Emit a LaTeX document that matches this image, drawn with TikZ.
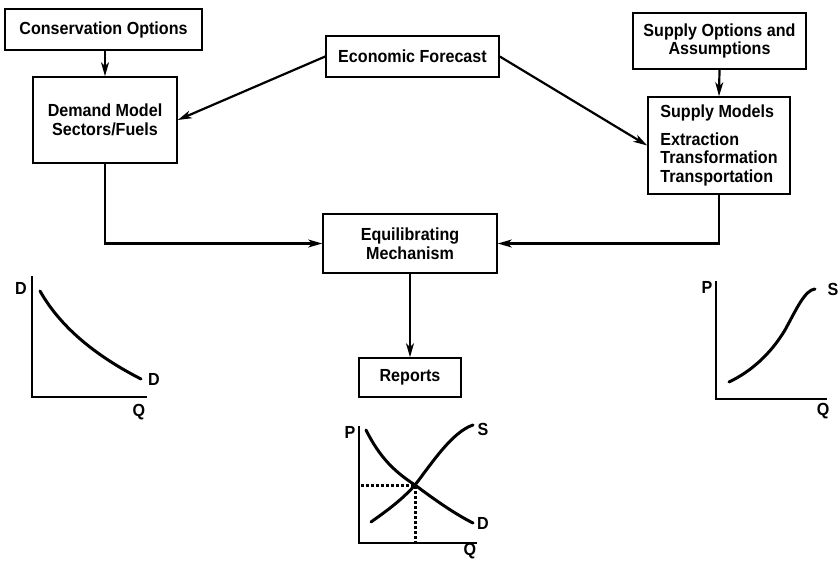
\documentclass[tikz,border=0pt]{standalone}
\usepackage{fontspec}
\setmainfont[FakeStretch=0.92]{Liberation Sans}
\usetikzlibrary{arrows.meta,positioning}
\tikzset{
  box/.style={draw, line width=1.6pt, inner sep=2pt, font=\bfseries\fontsize{17.5}{18.5}\selectfont, align=center},
  conn/.style={line width=2.2pt, -{Stealth[open, length=14pt, width=8pt, inset=4pt, line width=1.8pt]}},
  axis/.style={line width=1.8pt},
  curve/.style={line width=3pt, line cap=round},
  dots/.style={line width=3pt, dash pattern=on 3pt off 2pt},
  lab/.style={font=\bfseries\fontsize{17.5}{18.5}\selectfont, inner sep=0pt}
}
\begin{document}
\begin{tikzpicture}[x=1pt,y=-1pt]
\useasboundingbox (0,0) rectangle (840,562);
% boxes
\node[box, minimum width=197pt, minimum height=41pt] (cons) at (103.5,29.5) {Conservation Options};
\node[box, minimum width=144pt, minimum height=86pt] (dem) at (105,120) {Demand Model\\Sectors/Fuels};
\node[box, minimum width=173pt, minimum height=41pt] (econ) at (412.5,56.5) {Economic Forecast};
\node[box, minimum width=173pt, minimum height=56pt] (supopt) at (719.5,41) {Supply Options and\\Assumptions};
\node[box, minimum width=142pt, minimum height=97pt, align=left] (supmod) at (719,145.5) {Supply Models\\[9pt]Extraction\\Transformation\\Transportation};
\node[box, minimum width=174pt, minimum height=59pt] (eq) at (410,243.5) {Equilibrating\\Mechanism};
\node[box, minimum width=102pt, minimum height=39pt] (rep) at (410,377.5) {Reports};
% connectors
\draw[conn] (dem.north |- cons.south) -- (dem.north);
\draw[conn] (econ.west) -- (dem.east);
\draw[conn] (econ.east) -- (supmod.west);
\draw[conn] (supopt.south) -- (supmod.north);
\draw[conn] (dem.south) |- (eq.west);
\draw[conn] (supmod.south) |- (eq.east);
\draw[conn] (eq.south) -- (rep.north);
% left graph: demand
\draw[axis] (32,276) -- (32,397) -- (147,397);
\draw[curve] (40,291) .. controls (62,330) and (100,358) .. (141,379);
\node[lab] (ld1) at (21,288) {D};
\node[lab] (ld2) at (154,379) {D};
\node[lab] (lq) at (139,412) {Q};
% right graph: supply
\draw[axis] (716,281) -- (716,399) -- (827,399);
\draw[curve] (729,382) .. controls (750,372) and (770,355) .. (785,330) .. controls (797,308) and (805,290) .. (815,289);
\node[lab] (rp) at (707,287) {P};
\node[lab] (rs) at (833,289) {S};
\node[lab] (rq) at (823,411) {Q};
% middle graph: equilibrium
\draw[axis] (359,426) -- (359,543) -- (477,543);
\draw[curve] (366,430) .. controls (380,458) and (395,472) .. (415,485) .. controls (435,500) and (455,514) .. (473,523);
\draw[curve] (371,522) .. controls (385,512) and (402,500) .. (415,485) .. controls (432,463) and (452,432) .. (473,425);
\draw[dots] (361,485) -- (415,485) -- (415,543);
\node[lab] (mp) at (350,432) {P};
\node[lab] (ms) at (483,429) {S};
\node[lab] (md) at (483,523) {D};
\node[lab] (mq) at (470,551) {Q};
\end{tikzpicture}
\end{document}
